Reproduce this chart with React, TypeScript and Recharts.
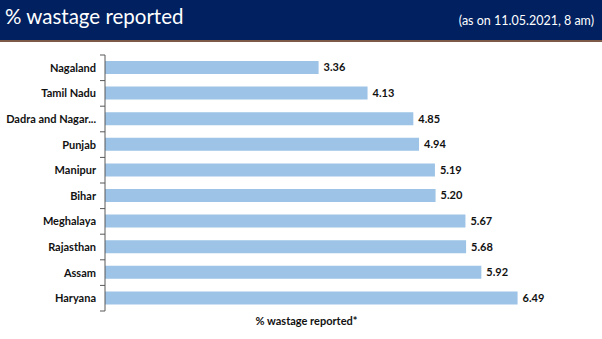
import React from 'react';
import { BarChart, Bar, XAxis, YAxis, LabelList } from 'recharts';

const STATES = [
  'Nagaland',
  'Tamil Nadu',
  'Dadra and Nagar Haveli',
  'Punjab',
  'Manipur',
  'Bihar',
  'Meghalaya',
  'Rajasthan',
  'Assam',
  'Haryana',
];
const WASTAGE = [3.36, 4.13, 4.85, 4.94, 5.19, 5.2, 5.67, 5.68, 5.92, 6.49];

const data = STATES.map((state, i) => ({ state, value: WASTAGE[i] }));

const W = 602;
const H = 339;
const MARGIN = { top: 55, right: 52, bottom: 8, left: 0 };
const X_AXIS_H = 20;
const HALF_BAND = (H - MARGIN.top - MARGIN.bottom - X_AXIS_H) / STATES.length / 2;
const FONT = 'Lato, "Open Sans", sans-serif';

const shorten = (s: string) => (s.length > 16 ? s.slice(0, 15) + '...' : s);

// excel style: ticks sit on the band edges, not the centres
function StateTick(props: any) {
  const { x, y, payload, index } = props;
  const ax = x + 9;
  return (
    <g>
      <line x1={ax - 5} x2={ax} y1={y - HALF_BAND} y2={y - HALF_BAND} stroke="#595959" />
      {index === STATES.length - 1 && (
        <line x1={ax - 5} x2={ax} y1={y + HALF_BAND} y2={y + HALF_BAND} stroke="#595959" />
      )}
      <text x={x} y={y} dy={4} textAnchor="end" fontSize={11} fontWeight={700} fill="#111" fontFamily={FONT}>
        {shorten(payload.value)}
      </text>
    </g>
  );
}

export default function App() {
  return (
    <div style={{ position: 'absolute', left: 0, top: 0, width: W, height: H, background: '#fff', fontFamily: FONT }}>
      <div
        style={{
          position: 'absolute',
          left: 0,
          top: 0,
          width: W,
          height: 40,
          background: '#002060',
          borderBottom: '2px solid #7d5a48',
        }}
      >
        <span style={{ position: 'absolute', left: 5, top: 4, color: '#fff', fontSize: 20.5, fontFamily: FONT }}>
          % wastage reported
        </span>
        <span style={{ position: 'absolute', right: 8, top: 13, color: '#fff', fontSize: 12.5, fontFamily: FONT }}>
          (as on 11.05.2021, 8 am)
        </span>
      </div>
      <div style={{ position: 'absolute', left: 0, top: 0 }}>
        <BarChart width={W} height={H} data={data} layout="vertical" margin={MARGIN}>
          <XAxis
            type="number"
            domain={[0, 7]}
            height={X_AXIS_H}
            axisLine={false}
            tickLine={false}
            tick={false}
            label={{
              value: '% wastage reported*',
              position: 'center',
              dx: -21,
              fontSize: 11,
              fontWeight: 700,
              fill: '#111',
              fontFamily: FONT,
            }}
          />
          <YAxis
            type="category"
            dataKey="state"
            width={105}
            axisLine={{ stroke: '#595959' }}
            tickLine={false}
            tickSize={5}
            tickMargin={4}
            interval={0}
            tick={<StateTick />}
          />
          <Bar dataKey="value" fill="#9dc3e6" barSize={13} isAnimationActive={false}>
            <LabelList
              dataKey="value"
              position="right"
              offset={5}
              formatter={(v: number) => v.toFixed(2)}
              fontSize={11}
              fontWeight={700}
              fill="#111"
              fontFamily={FONT}
            />
          </Bar>
        </BarChart>
      </div>
    </div>
  );
}
